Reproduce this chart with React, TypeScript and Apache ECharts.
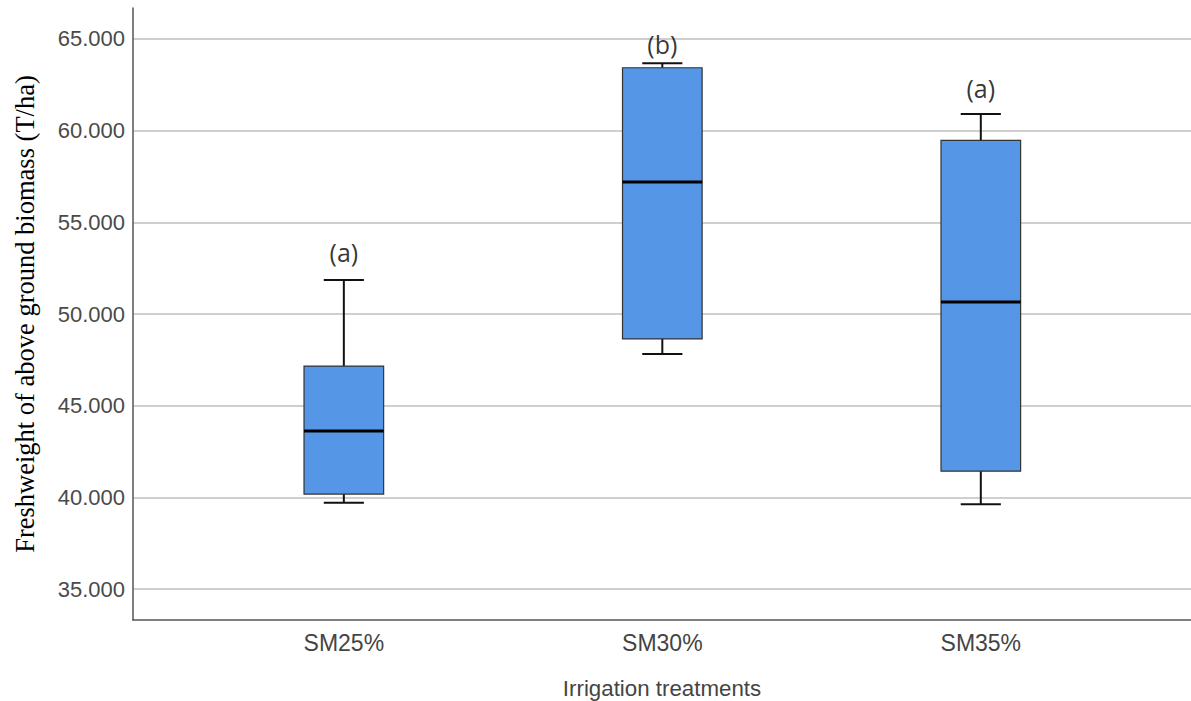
import React, { useEffect, useRef } from "react";
import * as echarts from "echarts";

const categories = ["SM25%", "SM30%", "SM35%"];
const whiskerLow = [39.71, 47.82, 39.63];
const q1 = [40.18, 48.64, 41.43];
const median = [43.62, 57.2, 50.65];
const q3 = [47.16, 63.43, 59.47];
const whiskerHigh = [51.85, 63.67, 60.91];
const letters = ["(a)", "(b)", "(a)"];
const letterY = [53.4, 64.73, 62.35];
const yTicks = [35, 40, 45, 50, 55, 60, 65];

const BOX_W = 0.25;
const CAP_W = 0.126;

export default function App() {
  const ref = useRef<HTMLDivElement>(null);
  useEffect(() => {
    if (!ref.current) return;
    const chart = echarts.init(ref.current, null, { renderer: "svg" });
    const boxData = categories.map((_, i) => [i, whiskerLow[i], q1[i], median[i], q3[i], whiskerHigh[i]]);
    chart.setOption({
      animation: false,
      backgroundColor: "#ffffff",
      grid: { left: 133, right: 0, top: 8, bottom: 81, containLabel: false, outerBoundsMode: "none" },
      xAxis: {
        type: "value",
        min: -0.662,
        max: 2.66,
        name: "Irrigation treatments",
        nameLocation: "middle",
        nameGap: 57,
        nameTextStyle: { fontFamily: "Liberation Sans", fontSize: 22.3, color: "#444" },
        axisLine: { show: true, onZero: false, lineStyle: { color: "#555", width: 1.5 } },
        axisTick: { show: false, customValues: [0, 1, 2] },
        splitLine: { show: false },
        axisLabel: {
          customValues: [0, 1, 2],
          formatter: (v: number) => categories[Math.round(v)] ?? "",
          fontFamily: "Liberation Sans",
          fontSize: 23,
          color: "#444",
          margin: 11,
        },
      },
      yAxis: {
        type: "value",
        min: 33.31,
        max: 66.69,
        name: "Freshweight of above ground biomass (T/ha)",
        nameLocation: "middle",
        nameGap: 95,
        nameTextStyle: { fontFamily: "Liberation Serif", fontSize: 26.5, color: "#000" },
        axisLine: { show: true, onZero: false, lineStyle: { color: "#555", width: 1.5 } },
        axisTick: { show: false, customValues: yTicks },
        splitLine: { show: true, lineStyle: { color: "#cfcfcf", width: 2 } },
        axisLabel: {
          customValues: yTicks,
          formatter: (v: number) => v.toFixed(3),
          fontFamily: "Liberation Sans",
          fontSize: 22,
          color: "#4a4a4a",
          margin: 8,
        },
      },
      series: [
        {
          type: "custom",
          data: boxData,
          renderItem: (params: any, api: any) => {
            const x = api.value(0);
            const lo = api.coord([x, api.value(1)]);
            const b1 = api.coord([x, api.value(2)]);
            const md = api.coord([x, api.value(3)]);
            const b3 = api.coord([x, api.value(4)]);
            const hi = api.coord([x, api.value(5)]);
            const bw = api.size([BOX_W, 0])[0];
            const cw = api.size([CAP_W, 0])[0];
            const cx = lo[0];
            const lineStyle = { stroke: "#111", lineWidth: 2 };
            return {
              type: "group",
              children: [
                { type: "line", shape: { x1: cx, y1: hi[1], x2: cx, y2: b3[1] }, style: lineStyle },
                { type: "line", shape: { x1: cx, y1: b1[1], x2: cx, y2: lo[1] }, style: lineStyle },
                { type: "line", shape: { x1: cx - cw / 2, y1: hi[1], x2: cx + cw / 2, y2: hi[1] }, style: lineStyle },
                { type: "line", shape: { x1: cx - cw / 2, y1: lo[1], x2: cx + cw / 2, y2: lo[1] }, style: lineStyle },
                {
                  type: "rect",
                  shape: { x: cx - bw / 2, y: b3[1], width: bw, height: b1[1] - b3[1] },
                  style: { fill: "#5596E6", stroke: "#333", lineWidth: 1.2 },
                },
                { type: "line", shape: { x1: cx - bw / 2, y1: md[1], x2: cx + bw / 2, y2: md[1] }, style: { stroke: "#000", lineWidth: 3 } },
              ],
            };
          },
        },
        {
          type: "scatter",
          data: letterY.map((y, i) => [i, y]),
          symbolSize: 1,
          itemStyle: { color: "rgba(0,0,0,0)" },
          label: {
            show: true,
            position: "inside",
            formatter: (p: any) => letters[p.dataIndex],
            fontFamily: "Open Sans",
            fontSize: 25,
            color: "#000",
          },
        },
      ],
    });
    return () => chart.dispose();
  }, []);
  return <div ref={ref} style={{ position: "absolute", left: 0, top: 0, width: 1191, height: 701 }} />;
}
